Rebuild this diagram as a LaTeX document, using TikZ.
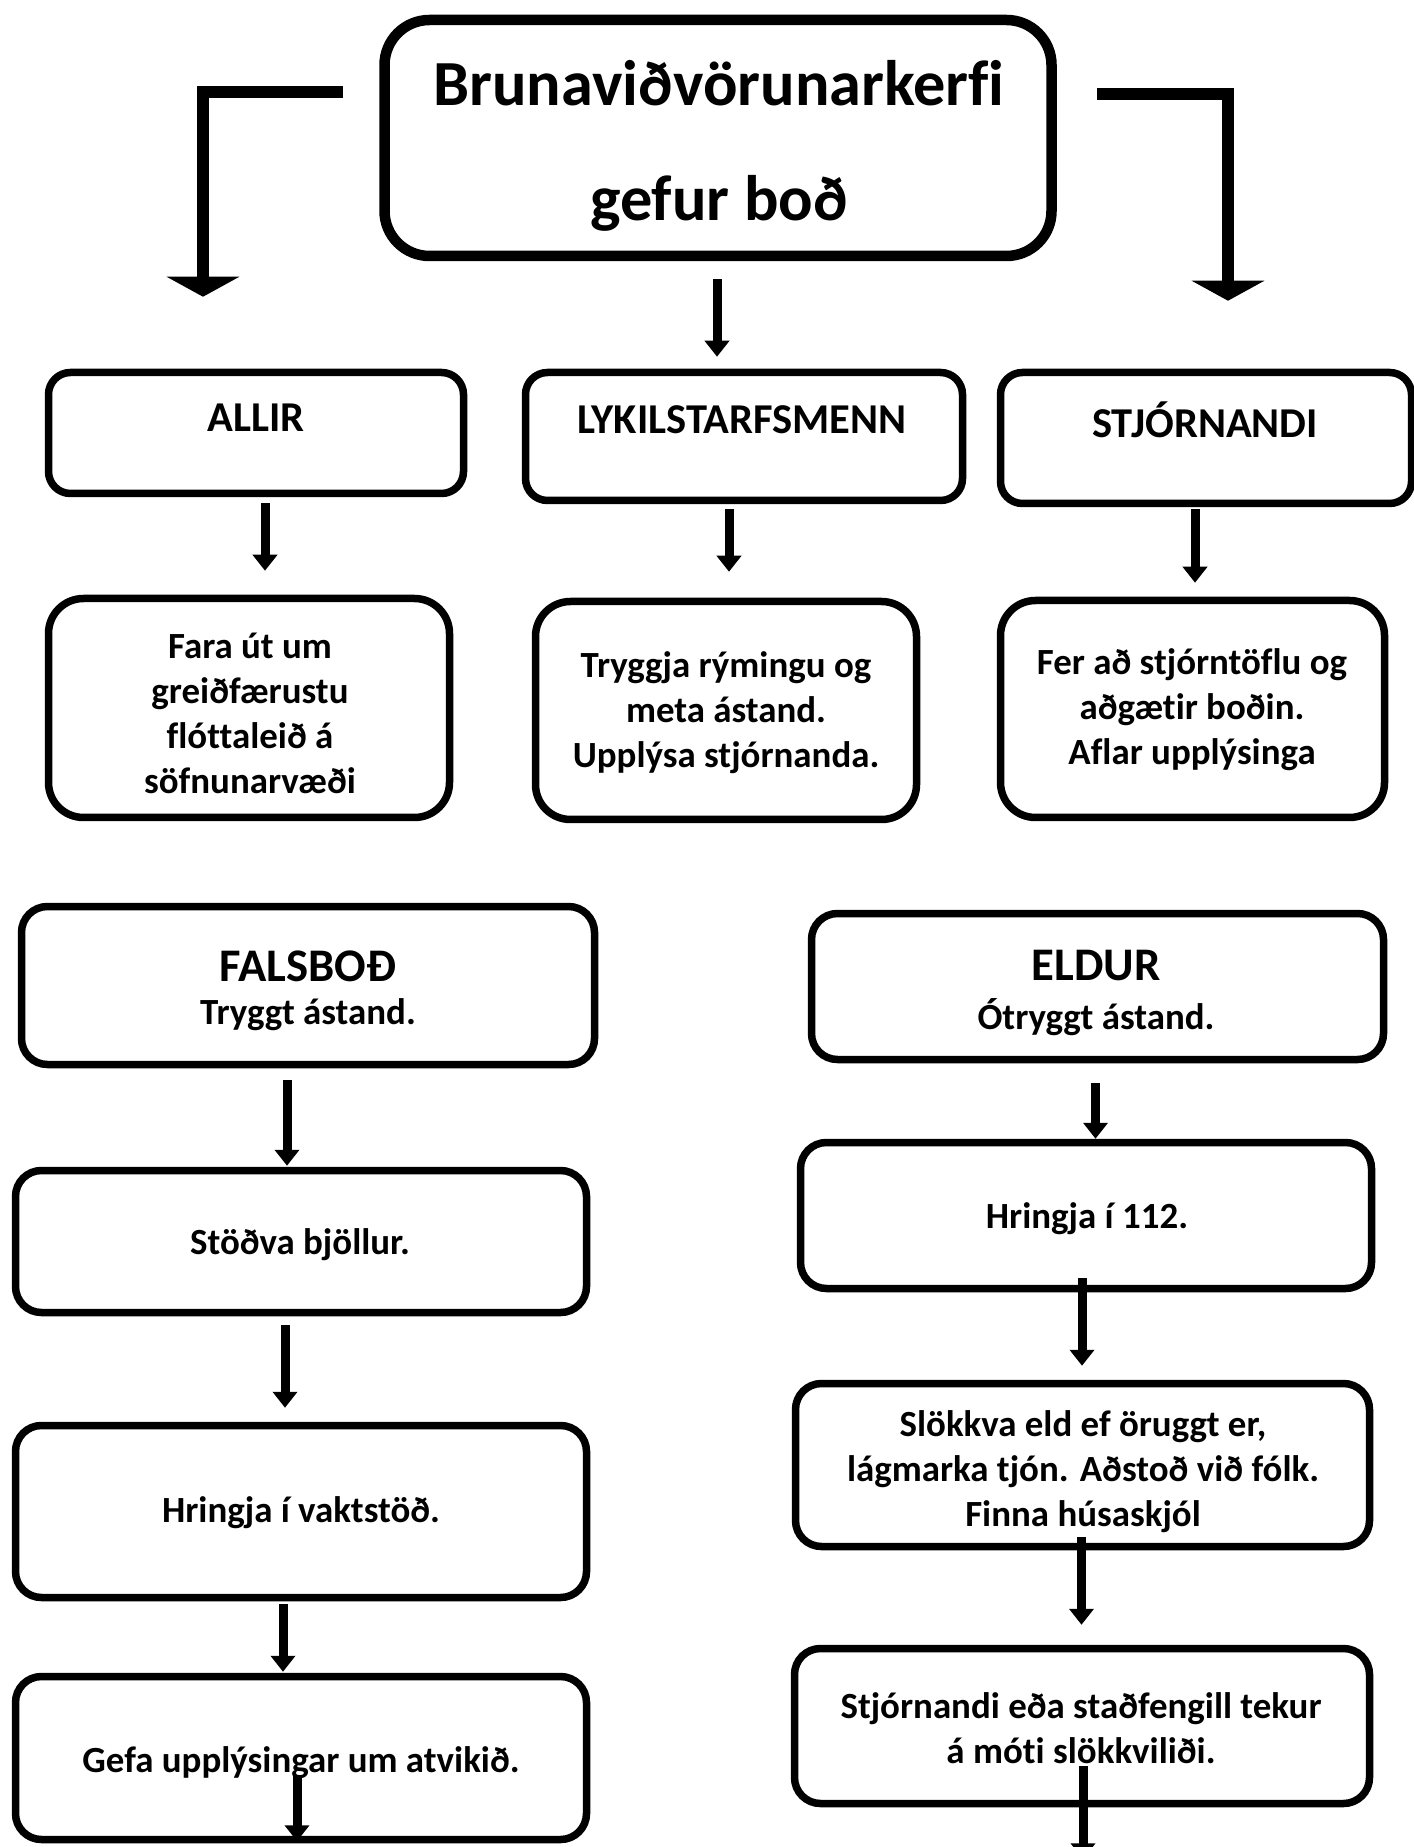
\documentclass[tikz,border=0pt]{standalone}
\usepackage{fontspec}
\setmainfont{Carlito}[Ligatures=NoCommon]
\usetikzlibrary{arrows.meta}

\begin{document}
\begin{tikzpicture}[x=0.1mm,y=-0.1mm,
  box/.style={draw=linecolor,fill=fillcolor,line width=0.75mm,rounded corners=2.6mm,inner sep=0pt},
  txt/.style={font=\bfseries\fontsize{10.5}{12.8}\selectfont,align=center,inner sep=0pt},
  headtxt/.style={font=\bfseries\fontsize{12.1}{14.6}\selectfont,inner sep=0pt},
  bigtxt/.style={font=\bfseries\fontsize{13.3}{16}\selectfont,inner sep=0pt},
  arr/.style={draw=linecolor,line width=0.9mm,-{Triangle[width=2.4mm,length=1.6mm]}},
  bigarr/.style={draw=linecolor,line width=1.2mm,-{Triangle[width=7.2mm,length=2mm]}}]
\definecolor{fillcolor}{RGB}{255,255,255}
\definecolor{linecolor}{RGB}{0,0,0}
\fill [fillcolor] (0,0) rectangle (1413,1847);
\useasboundingbox (0,0) rectangle (1413,1847);
% top
\node (top) [box,line width=1.05mm,rounded corners=4.5mm,minimum width=66.7mm,minimum height=23.6mm] at (718,138) {};
\node (topT) [font=\bfseries\fontsize{18.3}{32.7}\selectfont,align=center,inner sep=0pt] at (719,146) {Brunaviðvörunarkerfi\\gefur boð};
% groups
\node (allir) [box,rounded corners=2.2mm,minimum width=41.5mm,minimum height=12.1mm] at (256,433) {};
\node (allirT) [headtxt] at (256,418) {ALLIR};
\node (lyk) [box,rounded corners=2.2mm,minimum width=43.7mm,minimum height=12.8mm] at (744,436.5) {};
\node (lykT) [headtxt] at (742,420) {LYKILSTARFSMENN};
\node (stj) [box,rounded corners=2.2mm,minimum width=41.1mm,minimum height=13.1mm] at (1206,438) {};
\node (stjT) [headtxt] at (1205,420) {STJÓRNANDI};
% tasks
\node (fara) [box,rounded corners=3.5mm,minimum width=40.1mm,minimum height=21.9mm] at (249,708) {};
\node (faraT) [txt] at (250,713) {Fara út um\\greiðfærustu\\flóttaleið á\\söfnunarvæði};
\node (tryg) [box,rounded corners=3.5mm,minimum width=38.1mm,minimum height=21.8mm] at (726,710.5) {};
\node (trygT) [txt] at (726,713) {Tryggja rýmingu og\\meta ástand.\\Upplýsa stjórnanda.};
\node (fer) [box,rounded corners=3.5mm,minimum width=38.4mm,minimum height=21.7mm] at (1192.5,709) {};
\node (ferT) [txt] at (1192,710) {Fer að stjórntöflu og\\aðgætir boðin.\\Aflar upplýsinga};
% falsbod
\node (fals) [box,minimum width=57.3mm,minimum height=15.8mm] at (308,985.5) {};
\node (falsT) [bigtxt] at (308,966) {FALSBOÐ};
\node (falsS) [txt] at (308,1015) {Tryggt ástand.};
\node (stodva) [box,minimum width=57.1mm,minimum height=14.2mm] at (301,1241.5) {};
\node (stodvaT) [txt] at (300,1245) {Stöðva bjöllur.};
\node (hvakt) [box,minimum width=57.1mm,minimum height=17.2mm] at (301,1511.5) {};
\node (hvaktT) [txt] at (301,1513) {Hringja í vaktstöð.};
\node (gefa) [box,minimum width=57.1mm,minimum height=16.3mm] at (301,1758) {};
\node (gefaT) [txt] at (301,1763) {Gefa upplýsingar um atvikið.};
% eldur
\node (eldur) [box,minimum width=57.2mm,minimum height=14.6mm] at (1097.5,986.5) {};
\node (eldurT) [bigtxt] at (1096,966) {ELDUR};
\node (eldurS) [txt] at (1096,1017) {Ótryggt ástand.};
\node (h112) [box,minimum width=57.1mm,minimum height=14.6mm] at (1086,1215.5) {};
\node (h112T) [txt] at (1087,1219) {Hringja í 112.};
\node (slokk) [box,minimum width=57.4mm,minimum height=16.3mm] at (1082.5,1465) {};
\node (slokkT) [txt] at (1083,1472) {Slökkva eld ef öruggt er,\\lágmarka tjón. Aðstoð við fólk.\\Finna húsaskjól};
\node (stjorn) [box,minimum width=57.5mm,minimum height=15.5mm] at (1082,1726) {};
\node (stjornT) [txt] at (1081,1728) {Stjórnandi eða staðfengill tekur\\á móti slökkviliði.};
% arrows
\draw [bigarr] ([shift={(-36,-46)}]top.west) -| ([shift={(-53,-72)}]allir.north);
\draw [bigarr] ([shift={(40,-44)}]top.east) -| ([shift={(22,-68)}]stj.north);
\draw [arr] ([shift={(-1,18)}]top.south) -- ([shift={(-1,-12)}]top.south |- lyk.north);
\draw [arr] ([shift={(9,6)}]allir.south) -- ([shift={(9,-24)}]allir.south |- fara.north);
\draw [arr] ([shift={(-15,5)}]lyk.south) -- ([shift={(-15,-26)}]lyk.south |- tryg.north);
\draw [arr] ([shift={(-11,2)}]stj.south) -- ([shift={(-11,-14)}]stj.south |- fer.north);
\draw [arr] ([shift={(-21,12)}]fals.south) -- ([shift={(-21,-1)}]fals.south |- stodva.north);
\draw [arr] ([shift={(-16,9)}]stodva.south) -- ([shift={(-16,-14)}]stodva.south |- hvakt.north);
\draw [arr] ([shift={(-18,3)}]hvakt.south) -- ([shift={(-18,-1)}]hvakt.south |- gefa.north);
\draw [arr] ([shift={(-4,-68)}]gefa.south) -- ([shift={(-4,-2)}]gefa.south);
\draw [arr] ([shift={(-2,20)}]eldur.south) -- ([shift={(-2,0)}]eldur.south |- h112.north);
\draw [arr] ([shift={(-4,-14)}]h112.south) -- ([shift={(-4,-14)}]h112.south |- slokk.north);
\draw [arr] ([shift={(-1,-13)}]slokk.south) -- ([shift={(-1,-20)}]slokk.south |- stjorn.north);
\draw [arr] ([shift={(1,-41)}]stjorn.south) -- ([shift={(1,52)}]stjorn.south);
\end{tikzpicture}
\end{document}
